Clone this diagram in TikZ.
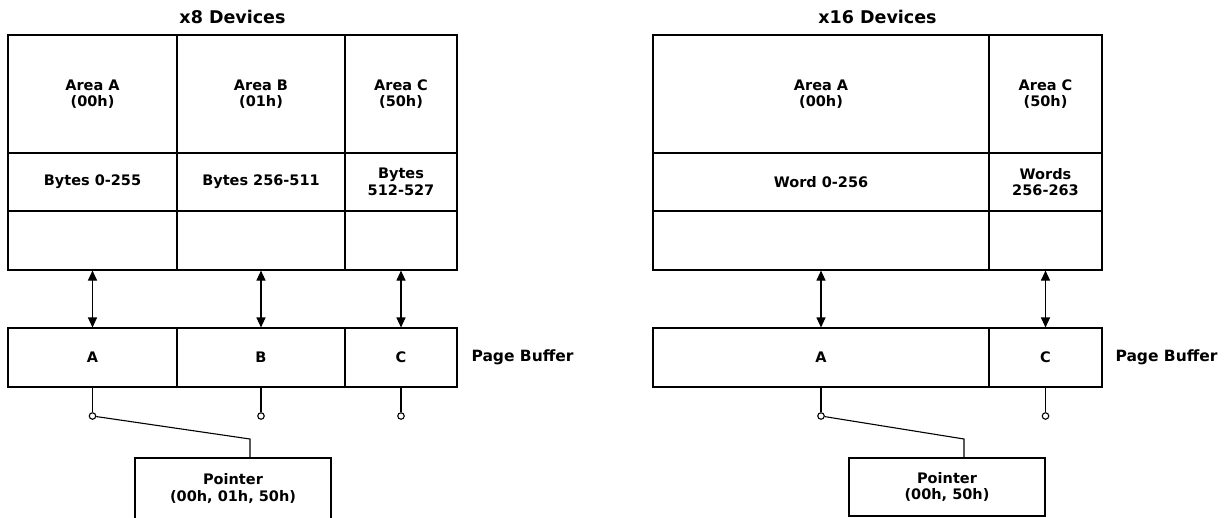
\documentclass[tikz,border=0pt]{standalone}
\usepackage{fontspec}
\setmainfont{DejaVu Sans}
\usetikzlibrary{arrows.meta}
\begin{document}
\begin{tikzpicture}[x=1pt,y=-1pt,
  every path/.style={line width=1.1pt},
  txt/.style={font=\bfseries\fontsize{14.5}{16.5}\selectfont, align=center},
  cell/.style={txt, draw, inner sep=0pt},
  title/.style={font=\bfseries\fontsize{17.5}{20}\selectfont, inner sep=0pt},
  pblabel/.style={font=\bfseries\fontsize{15.5}{18}\selectfont, inner sep=0pt, anchor=west},
  dot/.style={circle, draw, fill=white, inner sep=0pt, minimum size=6.5pt},
  biarrow/.style={{Triangle[length=10pt,width=9pt]}-{Triangle[length=10pt,width=9pt]}},
  r1/.style={minimum height=118pt},
  r2/.style={minimum height=58pt},
  r3/.style={minimum height=59pt}]
\useasboundingbox (0,0) rectangle (1230,517);
% ---------- x8 devices ----------
\node[title] (Lt) at (232.5,17) {x8 Devices};
\node[cell, r1, minimum width=169pt] (LA1) at (92.5,94) {Area A\\(00h)};
\node[cell, r1, minimum width=168pt] (LB1) at (261,94) {Area B\\(01h)};
\node[cell, r1, minimum width=112pt] (LC1) at (401,94) {Area C\\(50h)};
\node[cell, r2, minimum width=169pt] (LA2) at (92.5,182) {Bytes 0-255};
\node[cell, r2, minimum width=168pt] (LB2) at (261,182) {Bytes 256-511};
\node[cell, r2, minimum width=112pt] (LC2) at (401,182) {Bytes\\512-527};
\node[cell, r3, minimum width=169pt] (LA3) at (92.5,240.5) {};
\node[cell, r3, minimum width=168pt] (LB3) at (261,240.5) {};
\node[cell, r3, minimum width=112pt] (LC3) at (401,240.5) {};
\node[cell, r3, minimum width=169pt] (LPA) at (92.5,357.5) {A};
\node[cell, r3, minimum width=168pt] (LPB) at (261,357.5) {B};
\node[cell, r3, minimum width=112pt] (LPC) at (401,357.5) {C};
\node[pblabel] (Lpb) at (471,357.5) {Page Buffer};
\draw[biarrow] (LA3.south) -- (LPA.north);
\draw[biarrow] (LB3.south) -- (LPB.north);
\draw[biarrow] (LC3.south) -- (LPC.north);
\node[dot] (LdA) at (92.5,416) {};
\node[dot] (LdB) at (261,416) {};
\node[dot] (LdC) at (401,416) {};
\draw (LPA.south) -- (LdA.north);
\draw (LPB.south) -- (LdB.north);
\draw (LPC.south) -- (LdC.north);
\node[cell, minimum width=196pt, minimum height=61pt] (LP) at (233,488.5) {Pointer\\(00h, 01h, 50h)};
\coordinate (Lbend) at (250,439);
\draw (LdA) -- (Lbend) -- (Lbend |- LP.north);
% ---------- x16 devices ----------
\node[title] (Rt) at (877.5,17) {x16 Devices};
\node[cell, r1, minimum width=336pt] (RA1) at (821,94) {Area A\\(00h)};
\node[cell, r1, minimum width=113pt] (RC1) at (1045.5,94) {Area C\\(50h)};
\node[cell, r2, minimum width=336pt] (RA2) at (821,182) {Word 0-256};
\node[cell, r2, minimum width=113pt] (RC2) at (1045.5,182) {Words\\256-263};
\node[cell, r3, minimum width=336pt] (RA3) at (821,240.5) {};
\node[cell, r3, minimum width=113pt] (RC3) at (1045.5,240.5) {};
\node[cell, r3, minimum width=336pt] (RPA) at (821,357.5) {A};
\node[cell, r3, minimum width=113pt] (RPC) at (1045.5,357.5) {C};
\node[pblabel] (Rpb) at (1115,357.5) {Page Buffer};
\draw[biarrow] (RA3.south) -- (RPA.north);
\draw[biarrow] (RC3.south) -- (RPC.north);
\node[dot] (RdA) at (821,416) {};
\node[dot] (RdC) at (1045.5,416) {};
\draw (RPA.south) -- (RdA.north);
\draw (RPC.south) -- (RdC.north);
\node[cell, minimum width=196pt, minimum height=58pt] (RP) at (947,487) {Pointer\\(00h, 50h)};
\coordinate (Rbend) at (964,439);
\draw (RdA) -- (Rbend) -- (Rbend |- RP.north);
\end{tikzpicture}
\end{document}
